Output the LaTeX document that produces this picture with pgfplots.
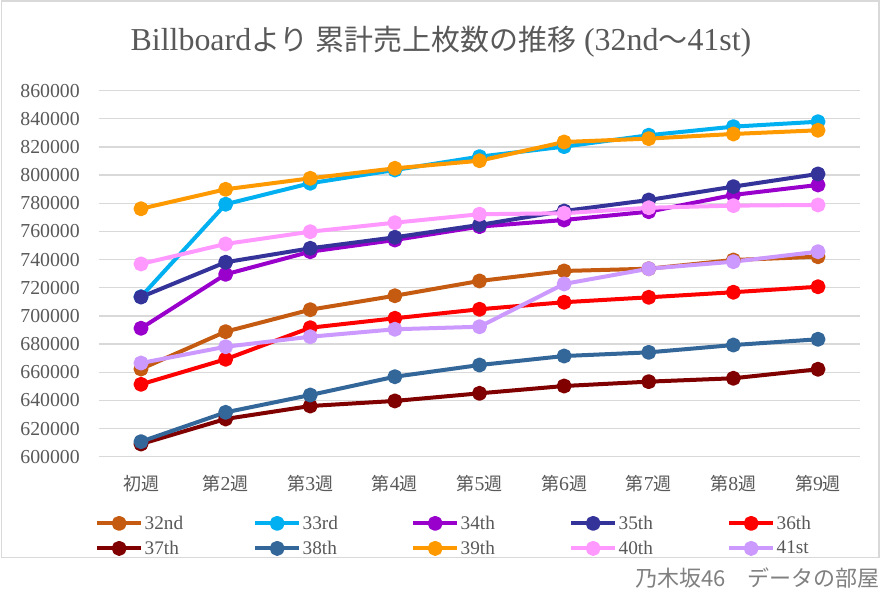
\documentclass[border=0pt]{standalone}
\usepackage{pgfplots}
\pgfplotsset{compat=1.18}
\usepackage{fontspec}
\setmainfont{Liberation Serif}[Scale=1.1]
\newfontfamily\cjk{Noto Sans CJK JP}
\definecolor{c32}{HTML}{C55A11}
\definecolor{c33}{HTML}{00B0F0}
\definecolor{c34}{HTML}{9900CC}
\definecolor{c35}{HTML}{333399}
\definecolor{c36}{HTML}{FF0000}
\definecolor{c37}{HTML}{800000}
\definecolor{c38}{HTML}{336699}
\definecolor{c39}{HTML}{FF9900}
\definecolor{c40}{HTML}{FF99FF}
\definecolor{c41}{HTML}{CC99FF}
\definecolor{gridgray}{HTML}{D9D9D9}
\definecolor{txtgray}{HTML}{595959}
\definecolor{wmgray}{HTML}{808080}
\newcommand{\LE}[1]{\makebox[107pt][l]{#1}}
\begin{document}
\begin{tikzpicture}
\useasboundingbox (0pt,0pt) rectangle (886pt,599pt);
\fill[white] (0pt,0pt) rectangle (886pt,599pt);
\draw[color=gridgray, line width=1.3pt] (1.5pt,41.5pt) rectangle (879pt,598pt);
\node[text=txtgray, font=\rmfamily\fontsize{29}{32}\selectfont] at (441pt,557pt) {Billboard{\cjk より 累計売上枚数の推移} (32nd{\cjk ～}41st)};
\node[anchor=east, text=wmgray, font=\cjk\fontsize{22}{24}\selectfont, inner sep=0pt] at (880pt,21pt) {乃木坂46　データの部屋};
\begin{axis}[
  at={(98.7pt,142.3pt)}, anchor=south west,
  scale only axis, width=761.6pt, height=366.1pt,
  xmin=-0.5, xmax=8.5, ymin=600000, ymax=860000,
  xtick={0,...,8},
  xticklabels={{\cjk 初週},{\cjk 第}2{\cjk 週},{\cjk 第}3{\cjk 週},{\cjk 第}4{\cjk 週},{\cjk 第}5{\cjk 週},{\cjk 第}6{\cjk 週},{\cjk 第}7{\cjk 週},{\cjk 第}8{\cjk 週},{\cjk 第}9{\cjk 週}},
  ytick={600000,620000,...,860000},
  scaled y ticks=false,
  yticklabel={\pgfmathprintnumber[fixed,1000 sep={}]{\tick}},
  /pgf/number format/assume math mode=true,
  ymajorgrids, grid style={color=gridgray, line width=1.3pt},
  axis line style={draw=none},
  major tick length=0pt,
  yticklabel style={font=\fontsize{18}{20}\selectfont, text=txtgray, anchor=east, inner sep=0pt, xshift=-18.7pt},
  xticklabel style={font=\fontsize{18}{20}\selectfont, text=txtgray, anchor=center, inner sep=0pt, yshift=-27.3pt},
  every axis plot/.append style={line width=4pt, mark=*, mark size=5.5pt, line join=round, mark options={solid}},
  legend columns=5,
  legend image code/.code={\draw[mark repeat=2,mark phase=2,#1] plot coordinates {(0pt,0pt) (22pt,0pt) (44pt,0pt)};},
  legend style={at={(rel axis cs:0,0)}, anchor=north west, xshift=-3.7pt, yshift=-57.5pt, draw=none, fill=none, inner sep=0pt, font=\fontsize{17.5}{19}\selectfont, text=txtgray, row sep=7pt, column sep=0pt, nodes={inner sep=1.5pt}},
]
\addplot[color=c32] coordinates {(0,662300)(1,688800)(2,704400)(3,714300)(4,724800)(5,731900)(6,733500)(7,739700)(8,742000)};
\addlegendentry{\LE{32nd}}
\addplot[color=c33] coordinates {(0,713600)(1,779300)(2,794200)(3,803600)(4,813100)(5,820200)(6,828300)(7,834400)(8,837900)};
\addlegendentry{\LE{33rd}}
\addplot[color=c34] coordinates {(0,691200)(1,729500)(2,745600)(3,753900)(4,763400)(5,768100)(6,774000)(7,785900)(8,793000)};
\addlegendentry{\LE{34th}}
\addplot[color=c35] coordinates {(0,713400)(1,738100)(2,748000)(3,755800)(4,764600)(5,774500)(6,782300)(7,791800)(8,800800)};
\addlegendentry{\LE{35th}}
\addplot[color=c36] coordinates {(0,651400)(1,669200)(2,691600)(3,698300)(4,704700)(5,709700)(6,713200)(7,716800)(8,720700)};
\addlegendentry{\LE{36th}}
\addplot[color=c37] coordinates {(0,609000)(1,626800)(2,636000)(3,639600)(4,645000)(5,650200)(6,653300)(7,655700)(8,662100)};
\addlegendentry{\LE{37th}}
\addplot[color=c38] coordinates {(0,610700)(1,631500)(2,643800)(3,656800)(4,665100)(5,671500)(6,674100)(7,679300)(8,683400)};
\addlegendentry{\LE{38th}}
\addplot[color=c39] coordinates {(0,776100)(1,789900)(2,797700)(3,804800)(4,810200)(5,823500)(6,825900)(7,829200)(8,831800)};
\addlegendentry{\LE{39th}}
\addplot[color=c40] coordinates {(0,736900)(1,751100)(2,759800)(3,766200)(4,772200)(5,772900)(6,776800)(7,778300)(8,778800)};
\addlegendentry{\LE{40th}}
\addplot[color=c41] coordinates {(0,666500)(1,678100)(2,685200)(3,690500)(4,692300)(5,722700)(6,733500)(7,738500)(8,745600)};
\addlegendentry{\LE{41st}}
\end{axis}
\end{tikzpicture}
\end{document}
